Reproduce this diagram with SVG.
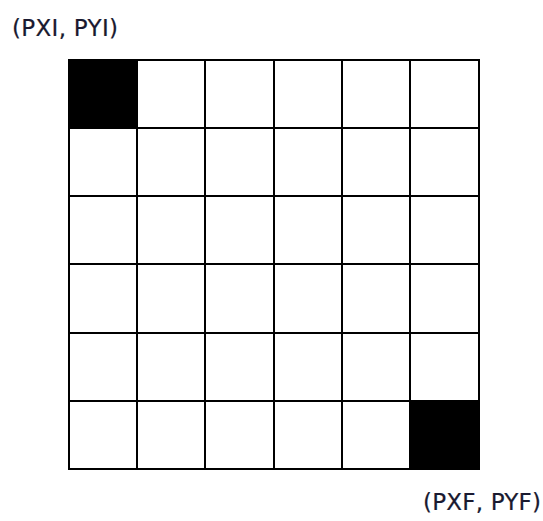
<svg xmlns="http://www.w3.org/2000/svg" width="543" height="521" viewBox="0 0 543 521">
<style>
.lbl{font-family:"DejaVu Sans","Liberation Sans",sans-serif;font-size:23px;fill:#1a1a30;stroke:#1a1a30;stroke-width:0.2}
.cell{fill:#fff;stroke:#000;stroke-width:2}
.on{fill:#000}
</style>
<rect width="543" height="521" fill="#fff"/>
<g id="grid">
<rect class="cell" x="69" y="60" width="410" height="409"/>
<path d="M137 60V469M205 60V469M274 60V469M342 60V469M410 60V469M69 128H479M69 196H479M69 264H479M69 333H479M69 401H479" stroke="#000" stroke-width="2" fill="none"/>
<rect class="on" x="69" y="60" width="68" height="68"/>
<rect class="on" x="410" y="401" width="69" height="68"/>
</g>
<g id="start"><text class="lbl" x="12" y="36" textLength="106">(PXI, PYI)</text></g>
<g id="end"><text class="lbl" x="423" y="510" textLength="118">(PXF, PYF)</text></g>
</svg>
